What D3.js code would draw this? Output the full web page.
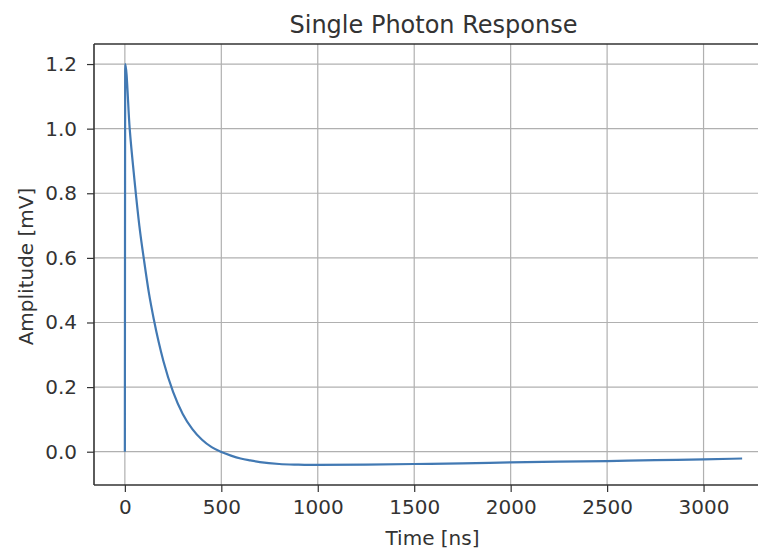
<!DOCTYPE html>
<html>
<head>
<meta charset="utf-8">
<script src="https://cdn.jsdelivr.net/npm/d3@7"></script>
<style>
  body { margin: 0; background: #fff; overflow: hidden; }
  svg { display: block; overflow: hidden; }
  text { font-family: "DejaVu Sans", sans-serif; fill: #333; }
</style>
</head>
<body>
<div id="chart"></div>
<script>
// Time samples (ns) and amplitude (mV)
const timeNs = [0, 2, 25, 50, 75, 100, 125, 150, 175, 200, 250, 300, 350, 400, 450, 500,
    550, 600, 650, 700, 800, 900, 1000, 1250, 1500, 1750, 2000, 2250, 2500, 2750, 3000, 3200];
const amplitudeMv = [0, 1.2, 1.0, 0.84, 0.7, 0.59, 0.49, 0.41, 0.34, 0.28, 0.185, 0.117, 0.07, 0.037, 0.014, -0.001,
    -0.012, -0.021, -0.027, -0.032, -0.038, -0.040, -0.041, -0.040, -0.038, -0.036, -0.033, -0.031, -0.029, -0.026, -0.024, -0.021];
const xTicks = [0, 500, 1000, 1500, 2000, 2500, 3000];
const yTicks = [0.0, 0.2, 0.4, 0.6, 0.8, 1.0, 1.2];

const width = 758, height = 553;
const margin = { top: 44, right: -15, bottom: 68, left: 94 };
const innerW = width - margin.left - margin.right;
const innerH = height - margin.top - margin.bottom;

const data = timeNs.map((t, i) => ({ t: t, v: amplitudeMv[i] }));

const svg = d3.select("#chart").append("svg")
    .attr("width", width)
    .attr("height", height);

const g = svg.append("g")
    .attr("transform", `translate(${margin.left},${margin.top})`);

// matplotlib-style 5% padding on both axes
const xMin = d3.min(timeNs), xMax = d3.max(timeNs);
const yMin = d3.min(amplitudeMv), yMax = d3.max(amplitudeMv);
const xPad = (xMax - xMin) * 0.05, yPad = (yMax - yMin) * 0.05;

const x = d3.scaleLinear().domain([xMin - xPad, xMax + xPad]).range([0, innerW]);
const y = d3.scaleLinear().domain([yMin - yPad, yMax + yPad]).range([innerH, 0]);

// Grid lines
g.append("g").selectAll("line")
    .data(xTicks).enter().append("line")
    .attr("x1", d => x(d)).attr("x2", d => x(d))
    .attr("y1", 0).attr("y2", innerH)
    .attr("stroke", "#b0b0b0").attr("stroke-width", 1.2);
g.append("g").selectAll("line")
    .data(yTicks).enter().append("line")
    .attr("x1", 0).attr("x2", innerW)
    .attr("y1", d => y(d)).attr("y2", d => y(d))
    .attr("stroke", "#b0b0b0").attr("stroke-width", 1.2);

// Curve
const line = d3.line().x(d => x(d.t)).y(d => y(d.v)).curve(d3.curveMonotoneX);
g.append("path")
    .datum(data)
    .attr("fill", "none")
    .attr("stroke", "#4279b3")
    .attr("stroke-width", 2.2)
    .attr("d", line);

// Axes
const xAxis = g.append("g")
    .attr("transform", `translate(0,${innerH})`)
    .call(d3.axisBottom(x).tickValues(xTicks).tickSize(7).tickPadding(8).tickFormat(d3.format("d")));
const yAxis = g.append("g")
    .call(d3.axisLeft(y).tickValues(yTicks).tickSize(7).tickPadding(10).tickFormat(d3.format(".1f")));

[xAxis, yAxis].forEach(a => {
    a.select(".domain").remove();
    a.selectAll(".tick line").attr("stroke", "#333").attr("stroke-width", 1.2);
    a.selectAll(".tick text").style("font-size", "20px").attr("fill", "#333");
});

// Spines: left, top, bottom (right one falls outside the picture)
const spines = [[0, 0, 0, innerH], [0, 0, innerW, 0], [0, innerH, innerW, innerH]];
g.append("g").selectAll("line")
    .data(spines).enter().append("line")
    .attr("x1", d => d[0]).attr("y1", d => d[1])
    .attr("x2", d => d[2]).attr("y2", d => d[3])
    .attr("stroke", "#333")
    .attr("stroke-width", 1.6);

// Title and labels
svg.append("text")
    .attr("x", margin.left + innerW / 2)
    .attr("y", 33)
    .attr("text-anchor", "middle")
    .style("font-size", "24px")
    .text("Single Photon Response");

svg.append("text")
    .attr("x", margin.left + innerW / 2 - 1)
    .attr("y", 545)
    .attr("text-anchor", "middle")
    .style("font-size", "20px")
    .text("Time [ns]");

svg.append("text")
    .attr("transform", `translate(33,${margin.top + innerH / 2 + 2}) rotate(-90)`)
    .attr("text-anchor", "middle")
    .style("font-size", "20px")
    .text("Amplitude [mV]");
</script>
</body>
</html>
